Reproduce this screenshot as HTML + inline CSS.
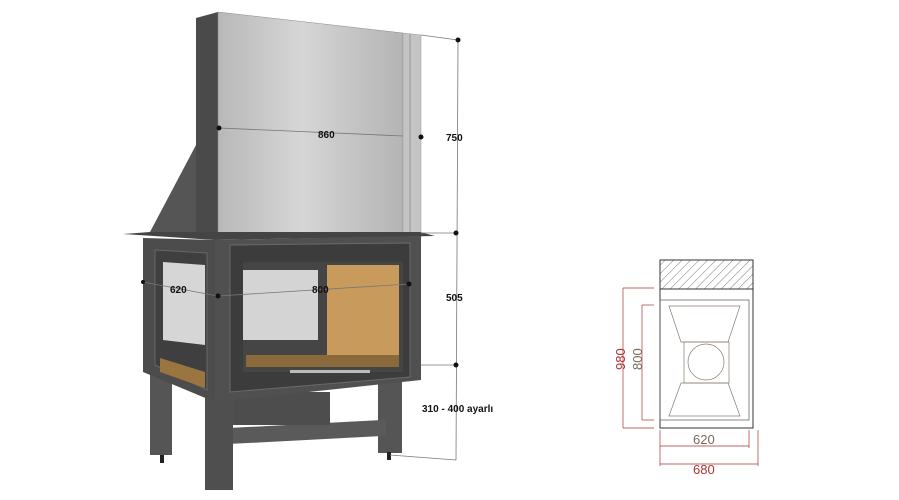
<!DOCTYPE html>
<html><head><style>body{margin:0;background:#fff}svg{display:block}text{font-family:"Liberation Sans",sans-serif}</style></head><body>
<svg width="899" height="500" viewBox="0 0 899 500">
<defs>
<linearGradient id="si" x1="0" x2="1"><stop offset="0" stop-color="#b8b8b8"/><stop offset=".45" stop-color="#d6d6d6"/><stop offset="1" stop-color="#b4b4b4"/></linearGradient>
<pattern id="h" width="6" height="6" patternUnits="userSpaceOnUse" patternTransform="rotate(45)"><line x1="0" y1="0" x2="0" y2="6" stroke="#555" stroke-width="0.8"/></pattern>
</defs>
<polygon points="196,18 218,12 218,238 196,238" fill="#4a4a4a"/>
<polygon points="218,12 403,33 403,238 218,238" fill="url(#si)" stroke="#888" stroke-width=".5"/>
<polygon points="403,33 421,35 421,238 403,238" fill="#c4c4c4" stroke="#999" stroke-width=".5"/>
<line x1="410" y1="34" x2="410" y2="236" stroke="#999"/>
<polygon points="196,145 150,232 196,236" fill="#555"/>
<polygon points="123,234 150,232 420,232 435,236 215,240" fill="#444"/>
<rect x="150" y="372" width="22" height="83" fill="#555"/>
<rect x="378" y="375" width="24" height="78" fill="#555"/>
<rect x="228" y="428" width="158" height="16" fill="#5a5a5a" transform="skewY(-3) translate(0,12)"/>
<rect x="233" y="392" width="97" height="33" fill="#4d4d4d"/>
<rect x="205" y="395" width="28" height="95" fill="#4f4f4f"/>
<rect x="160" y="455" width="4" height="8" fill="#222"/><rect x="387" y="452" width="4" height="8" fill="#222"/>
<polygon points="143,238 215,240 215,402 143,372" fill="#4c4c4c"/>
<polygon points="155,250 207,253 207,390 155,365" fill="#3f3f3f" stroke="#666"/>
<polygon points="163,262 205,265 205,345 163,340" fill="#d6d6d6"/>
<polygon points="160,358 205,372 205,388 160,372" fill="#9a7540"/>
<polygon points="215,240 421,236 421,380 215,402" fill="#505050"/>
<polygon points="230,245 410,243 410,377 230,392" fill="#3c3c3c" stroke="#6a6a6a"/>
<rect x="243" y="262" width="160" height="110" fill="#454545"/>
<rect x="243" y="270" width="75" height="70" fill="#d4d4d4"/>
<rect x="327" y="265" width="72" height="92" fill="#c89b5c"/>
<rect x="246" y="355" width="153" height="12" fill="#8a6a3a"/>
<rect x="290" y="370" width="80" height="3" fill="#bbb"/>
<g stroke="#777" stroke-width=".8" fill="none">
<line x1="421" y1="35" x2="458" y2="40"/><line x1="458" y1="40" x2="456" y2="460"/>
<line x1="421" y1="233" x2="456" y2="233"/>
<line x1="421" y1="365" x2="456" y2="365"/>
<line x1="390" y1="455" x2="456" y2="460"/>
<line x1="219" y1="128" x2="403" y2="136"/>
<line x1="143" y1="282" x2="218" y2="296"/><line x1="218" y1="296" x2="409" y2="284"/>
</g>
<g fill="#111"><circle cx="458" cy="40" r="2.5"/><circle cx="456" cy="233" r="2.5"/><circle cx="456" cy="365" r="2.5"/><circle cx="219" cy="128" r="2.5"/><circle cx="421" cy="137" r="2.5"/><circle cx="218" cy="296" r="2.5"/><circle cx="409" cy="284" r="2.5"/><circle cx="143" cy="282" r="2"/></g>
<g font-size="10" font-weight="bold" fill="#111">
<text x="446" y="141">750</text><text x="446" y="301">505</text><text x="422" y="412">310 - 400 ayarlı</text>
<text x="318" y="138">860</text><text x="170" y="293">620</text><text x="312" y="293">800</text>
</g>
<rect x="660" y="260" width="93" height="29" fill="url(#h)" stroke="#333"/>
<rect x="660" y="289" width="93" height="139" fill="none" stroke="#333"/>
<rect x="660" y="300" width="89" height="120" fill="none" stroke="#555" stroke-width=".7"/>
<g stroke="#8a7a70" stroke-width=".7" fill="none">
<polygon points="669,306 740,306 728,342 681,342"/><polygon points="681,383 728,383 740,416 669,416"/>
<rect x="684" y="342" width="45" height="41"/><circle cx="706" cy="362" r="18"/>
</g>
<g stroke="#a33" stroke-width=".7" fill="none">
<line x1="623" y1="288" x2="623" y2="428"/><line x1="623" y1="288" x2="654" y2="288"/><line x1="623" y1="428" x2="654" y2="428"/>
<line x1="642" y1="305" x2="642" y2="420"/><line x1="642" y1="305" x2="654" y2="305"/><line x1="642" y1="420" x2="654" y2="420"/>
<line x1="660" y1="446" x2="749" y2="446"/><line x1="660" y1="464" x2="758" y2="464"/>
<line x1="660" y1="430" x2="660" y2="466"/><line x1="749" y1="430" x2="749" y2="448"/><line x1="758" y1="430" x2="758" y2="466"/>
</g>
<g font-size="13" fill="#a33">
<text transform="translate(625,370) rotate(-90)">980</text>
<text transform="translate(642,370) rotate(-90)" fill="#7a6a5a">800</text>
<text x="693" y="444" fill="#7a6a5a">620</text><text x="693" y="474">680</text>
</g>
</svg>
</body></html>
